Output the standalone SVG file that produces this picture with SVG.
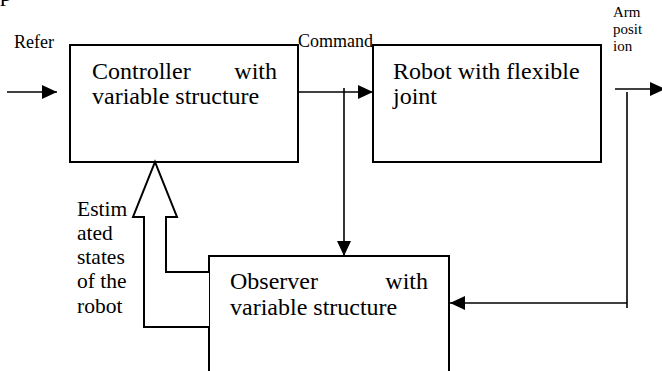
<svg xmlns="http://www.w3.org/2000/svg" width="662" height="371" viewBox="0 0 662 371" font-family="'Liberation Serif', 'Times New Roman', serif">
<defs>
<style>
.box{fill:#fff;stroke:#000;stroke-width:2}
.ln{fill:none;stroke:#000;stroke-width:1.6}
.t{font-family:"Liberation Serif","Times New Roman",serif;fill:#000}
.big{font-size:24px}
.mid{font-size:21.5px}
.sm{font-size:18px}
.xs{font-size:15px}
</style>
<marker id="ah" markerWidth="15" markerHeight="14" refX="15" refY="7" orient="auto" markerUnits="userSpaceOnUse">
<path d="M0,0 L15,7 L0,14 Z" fill="#000"/>
</marker>
</defs>
<rect width="662" height="371" fill="#fff"/>
<text class="t big" x="0" y="1">p</text>
<g id="controller">
<rect class="box" x="70" y="45" width="228" height="117"/>
<text class="t big" x="92" y="79">Controller</text>
<text class="t big" x="277" y="79" text-anchor="end">with</text>
<text class="t big" x="92" y="104">variable structure</text>
</g>
<g id="robot">
<rect class="box" x="373" y="45" width="228" height="117"/>
<text class="t big" x="393" y="79">Robot with flexible</text>
<text class="t big" x="393" y="104">joint</text>
</g>
<g id="observer">
<rect class="box" x="209" y="256" width="240" height="130"/>
<text class="t big" x="230" y="289">Observer</text>
<text class="t big" x="428" y="289" text-anchor="end">with</text>
<text class="t big" x="230" y="315">variable structure</text>
</g>
<g id="connectors">
<line class="ln" x1="7" y1="92" x2="57" y2="92" marker-end="url(#ah)"/>
<line class="ln" x1="298" y1="92" x2="373" y2="92" marker-end="url(#ah)"/>
<line class="ln" x1="344" y1="88" x2="344" y2="256" marker-end="url(#ah)"/>
<line class="ln" x1="615" y1="89" x2="665" y2="89" marker-end="url(#ah)"/>
<polyline class="ln" points="627,92 627,308"/>
<line class="ln" x1="627" y1="303" x2="450" y2="303" marker-end="url(#ah)"/>
<path d="M209,327 L144,327 L144,217 L133,217 L155,162 L177,217 L166,217 L166,272 L209,272" fill="#fff" stroke="#000" stroke-width="2"/>
</g>
<g id="labels">
<text class="t sm" x="14" y="48">Refer</text>
<text class="t sm" x="298" y="47">Command</text>
<text class="t xs" x="613" y="17">Arm</text>
<text class="t xs" x="613" y="34">posit</text>
<text class="t xs" x="613" y="51">ion</text>
<text class="t mid" x="77" y="216">Estim</text>
<text class="t mid" x="77" y="240">ated</text>
<text class="t mid" x="77" y="264">states</text>
<text class="t mid" x="77" y="288">of the</text>
<text class="t mid" x="77" y="313">robot</text>
</g>
</svg>
